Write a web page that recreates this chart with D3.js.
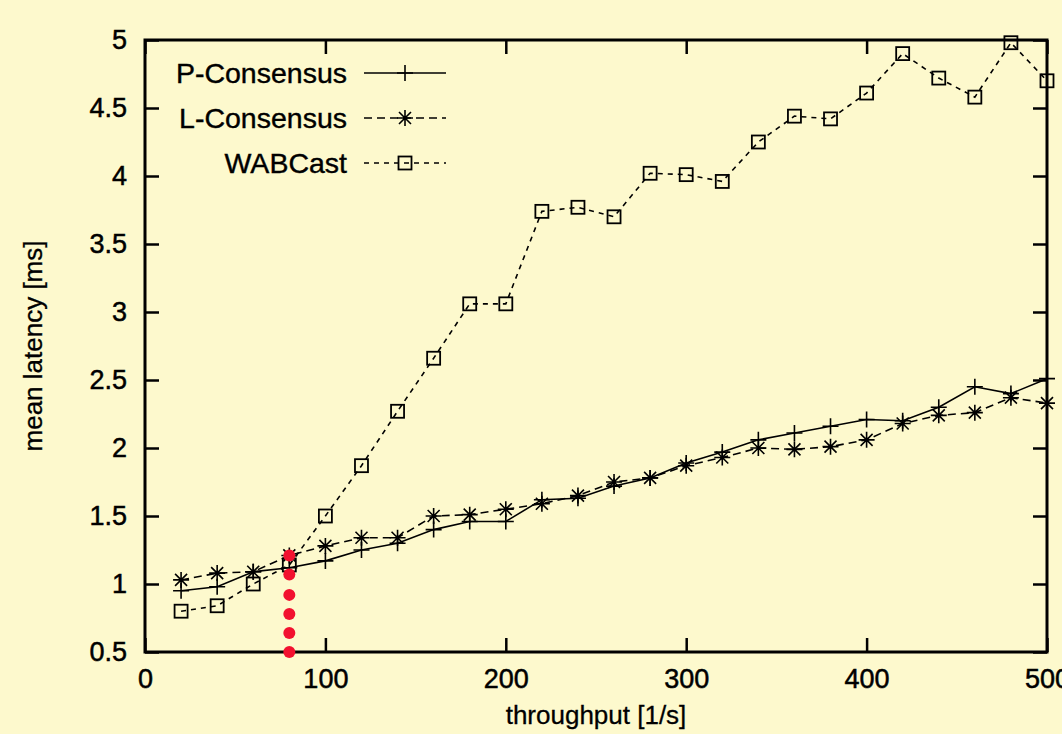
<!DOCTYPE html>
<html>
<head>
<meta charset="utf-8">
<script src="https://cdn.jsdelivr.net/npm/d3@7"></script>
<style>
  body { margin: 0; background: #fdf9cd; }
  svg { display: block; }
  text { font-family: "Liberation Sans", Arial, sans-serif; fill: #000; }
</style>
</head>
<body>
<svg id="chart" width="1062" height="734"></svg>
<script>
// throughput values (x) shared by all series
var throughput = [20, 40, 60, 80, 100, 120, 140, 160, 180, 200, 220, 240, 260,
                  280, 300, 320, 340, 360, 380, 400, 420, 440, 460, 480, 500];

var pConsensus = [0.95, 0.98, 1.09, 1.12, 1.17, 1.25, 1.30, 1.40, 1.46, 1.46, 1.62, 1.63, 1.72,
                  1.78, 1.89, 1.97, 2.06, 2.11, 2.16, 2.21, 2.20, 2.30, 2.45, 2.40, 2.51];
var lConsensus = [1.03, 1.08, 1.09, 1.21, 1.28, 1.34, 1.34, 1.50, 1.51, 1.55, 1.59, 1.65, 1.75,
                  1.78, 1.87, 1.93, 2.00, 1.99, 2.01, 2.06, 2.18, 2.24, 2.26, 2.37, 2.33];
var wabCast    = [0.80, 0.84, 1.00, 1.14, 1.50, 1.87, 2.27, 2.66, 3.06, 3.06, 3.74, 3.77, 3.70,
                  4.02, 4.01, 3.96, 4.25, 4.44, 4.42, 4.61, 4.90, 4.72, 4.58, 4.98, 4.70];

// red marker dots at throughput 80
var redDotX = 80;
var redDotY = [0.5, 0.64, 0.78, 0.92, 1.07, 1.21];

var xTicks = [0, 100, 200, 300, 400, 500];
var yTicks = [0.5, 1, 1.5, 2, 2.5, 3, 3.5, 4, 4.5, 5];

var seriesNames = ["P-Consensus", "L-Consensus", "WABCast"];

var svg = d3.select("#chart");

var margins = { top: 40, bottom: 82, left: 145, right: 15 };
var width = 1062, height = 734;

var x = d3.scaleLinear().domain([0, 500]).range([margins.left, width - margins.right]);
var y = d3.scaleLinear().domain([0.5, 5]).range([height - margins.bottom, margins.top]);

svg.append("rect").attr("width", width).attr("height", height).attr("fill", "#fdf9cd");

// axes: ticks point inward on all four sides
var tickLen = 14;
function styleAxis(g) {
  g.select(".domain").remove();
  g.selectAll("line").attr("stroke", "#000").attr("stroke-width", 2.5);
  g.selectAll("text").attr("font-size", 27).style("font-family", "Liberation Sans, Arial, sans-serif")
    .attr("stroke", "#000").attr("stroke-width", 0.5);
}

svg.append("g")
  .attr("transform", "translate(0," + y(0.5) + ")")
  .call(d3.axisBottom(x).tickValues(xTicks).tickSize(-tickLen).tickPadding(17).tickFormat(d3.format("d")))
  .call(styleAxis);

svg.append("g")
  .attr("transform", "translate(" + x(0) + ",0)")
  .call(d3.axisLeft(y).tickValues(yTicks).tickSize(-tickLen).tickPadding(18).tickFormat(function(d) { return String(d); }))
  .call(styleAxis);

svg.append("g")
  .attr("transform", "translate(0," + y(5) + ")")
  .call(d3.axisTop(x).tickValues(xTicks).tickSize(-tickLen).tickFormat(""))
  .call(styleAxis);

svg.append("g")
  .attr("transform", "translate(" + x(500) + ",0)")
  .call(d3.axisRight(y).tickValues(yTicks).tickSize(-tickLen).tickFormat(""))
  .call(styleAxis);

// frame
svg.append("rect")
  .attr("x", x(0)).attr("y", y(5))
  .attr("width", x(500) - x(0)).attr("height", y(0.5) - y(5))
  .attr("fill", "none").attr("stroke", "#000").attr("stroke-width", 3);

// axis titles
svg.append("text")
  .attr("x", (x(0) + x(500)) / 2).attr("y", 724)
  .attr("text-anchor", "middle").attr("font-size", 26)
  .attr("stroke", "#000").attr("stroke-width", 0.3)
  .text("throughput [1/s]");

svg.append("text")
  .attr("transform", "translate(42," + ((y(0.5) + y(5)) / 2) + ") rotate(-90)")
  .attr("text-anchor", "middle").attr("font-size", 26)
  .attr("stroke", "#000").attr("stroke-width", 0.3)
  .text("mean latency [ms]");

// markers
function drawPlus(g, cx, cy) {
  g.append("path").attr("d", "M" + (cx - 8) + "," + cy + "H" + (cx + 8) + "M" + cx + "," + (cy - 8) + "V" + (cy + 8))
    .attr("stroke", "#000").attr("stroke-width", 1.6).attr("fill", "none");
}
function drawStar(g, cx, cy) {
  var s = 8, d = 6;
  g.append("path").attr("d",
      "M" + (cx - s) + "," + cy + "H" + (cx + s) +
      "M" + cx + "," + (cy - s) + "V" + (cy + s) +
      "M" + (cx - d) + "," + (cy - d) + "L" + (cx + d) + "," + (cy + d) +
      "M" + (cx - d) + "," + (cy + d) + "L" + (cx + d) + "," + (cy - d))
    .attr("stroke", "#000").attr("stroke-width", 1.6).attr("fill", "none");
}
function drawSquare(g, cx, cy) {
  g.append("rect").attr("x", cx - 6.5).attr("y", cy - 6.5).attr("width", 13).attr("height", 13)
    .attr("stroke", "#000").attr("stroke-width", 1.8).attr("fill", "none");
}

var series = [
  { name: seriesNames[0], values: pConsensus, dash: null, marker: drawPlus },
  { name: seriesNames[1], values: lConsensus, dash: "8,5", marker: drawStar },
  { name: seriesNames[2], values: wabCast, dash: "5,5", marker: drawSquare }
];

var line = d3.line()
  .x(function(d) { return x(d.x); })
  .y(function(d) { return y(d.y); });

var plot = svg.append("g");

series.slice().reverse().forEach(function(s) {
  var pts = throughput.map(function(t, i) { return { x: t, y: s.values[i] }; });
  plot.append("path")
    .datum(pts)
    .attr("d", line)
    .attr("fill", "none")
    .attr("stroke", "#000")
    .attr("stroke-width", 1.6)
    .attr("stroke-dasharray", s.dash);
  var mg = plot.append("g");
  pts.forEach(function(p) { s.marker(mg, x(p.x), y(p.y)); });
});

// legend
var legend = svg.append("g");
series.forEach(function(s, i) {
  var ly = 73 + i * 45;
  legend.append("text")
    .attr("x", 347).attr("y", ly).attr("dy", "0.35em")
    .attr("text-anchor", "end").attr("font-size", 28.5)
    .attr("stroke", "#000").attr("stroke-width", 0.4)
    .text(s.name);
  legend.append("line")
    .attr("x1", 364).attr("x2", 446).attr("y1", ly).attr("y2", ly)
    .attr("stroke", "#000").attr("stroke-width", 1.6)
    .attr("stroke-dasharray", s.dash);
  s.marker(legend, 405, ly);
});

// red dots
svg.append("g").selectAll("circle")
  .data(redDotY)
  .join("circle")
  .attr("cx", x(redDotX))
  .attr("cy", function(d) { return y(d); })
  .attr("r", 6)
  .attr("fill", "#f2112f");
</script>
</body>
</html>
